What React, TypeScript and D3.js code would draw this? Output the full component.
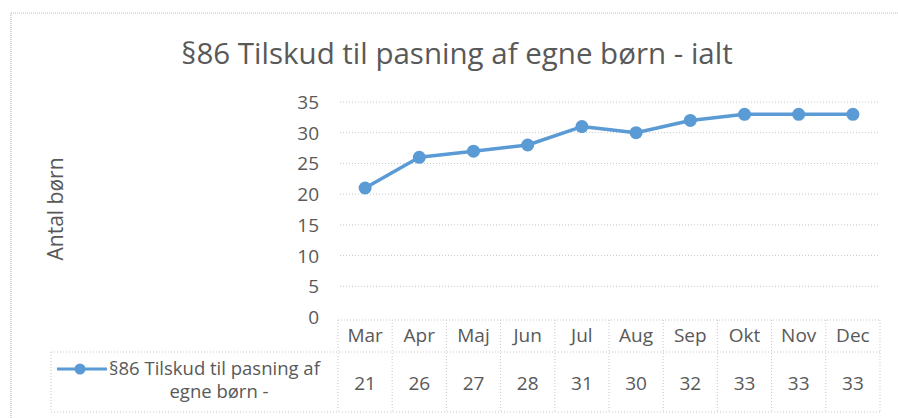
import React from "react";
import * as d3 from "d3";

const title = "§86 Tilskud til pasning af egne børn - ialt";
const yAxisTitle = "Antal børn";
const categories = ["Mar", "Apr", "Maj", "Jun", "Jul", "Aug", "Sep", "Okt", "Nov", "Dec"];
const values = [21, 26, 27, 28, 31, 30, 32, 33, 33, 33];
const yTicks = [0, 5, 10, 15, 20, 25, 30, 35];
const seriesLabelLines = ["§86 Tilskud til pasning af", "egne børn -"];

const W = 898;
const H = 418;
const FONT = "'Open Sans', sans-serif";
const TEXT = "#595959";
const GRID = "#c8c8c8";
const BLUE = "#5B9BD5";

export default function App() {
  const x = d3.scaleBand<string>().domain(categories).range([338, 880]);
  const y = d3.scaleLinear().domain([0, 35]).range([317, 102]);
  const cx = (c: string) => (x(c) as number) + x.bandwidth() / 2;
  const line = d3
    .line<number>()
    .x((_, i) => cx(categories[i]))
    .y((d) => y(d));

  const headTop = 320;
  const headBot = 352;
  const rowBot = 412;
  const legendLeft = 51;

  return (
    <svg width={W} height={H} style={{ position: "absolute", left: 0, top: 0, background: "#fff" }}>
      <rect x={0} y={0} width={W} height={H} fill="#fff" />
      {/* chart border */}
      <line x1={11} y1={13} x2={W} y2={13} stroke="#bbb" strokeWidth={1.2} strokeDasharray="1,1" />
      <line x1={11} y1={13} x2={11} y2={H} stroke="#bbb" strokeWidth={1.2} strokeDasharray="1,1" />

      <text x={457} y={64} textAnchor="middle" fontFamily={FONT} fontSize={29.5} fill={TEXT}>
        {title}
      </text>

      <text
        transform={`translate(63,${209}) rotate(-90)`}
        textAnchor="middle"
        fontFamily={FONT}
        fontSize={21}
        fill={TEXT}
      >
        {yAxisTitle}
      </text>

      {yTicks.map((t) => (
        <g key={t}>
          {t > 0 && (
            <line
              x1={340}
              x2={878}
              y1={y(t)}
              y2={y(t)}
              stroke={GRID}
              strokeWidth={1}
              strokeDasharray="1,2"
            />
          )}
          <text x={319} y={y(t) + 7} textAnchor="end" fontFamily={FONT} fontSize={19} fill={TEXT}>
            {t}
          </text>
        </g>
      ))}

      {/* table */}
      <g stroke={GRID} strokeWidth={1} strokeDasharray="1,2" fill="none">
        <line x1={338} x2={880} y1={headTop} y2={headTop} />
        <line x1={legendLeft} x2={880} y1={headBot} y2={headBot} />
        <line x1={legendLeft} x2={880} y1={rowBot} y2={rowBot} />
        <line x1={legendLeft} x2={legendLeft} y1={headBot} y2={rowBot} />
        {categories.map((c) => (
          <line key={c} x1={x(c)} x2={x(c)} y1={headTop} y2={rowBot} />
        ))}
        <line x1={880} x2={880} y1={headTop} y2={rowBot} />
      </g>
      {categories.map((c, i) => (
        <g key={c}>
          <text x={cx(c)} y={342} textAnchor="middle" fontFamily={FONT} fontSize={19} fill={TEXT}>
            {c}
          </text>
          <text x={cx(c)} y={390} textAnchor="middle" fontFamily={FONT} fontSize={19} fill={TEXT}>
            {values[i]}
          </text>
        </g>
      ))}

      {/* legend key */}
      <line x1={57} x2={107} y1={369} y2={369} stroke={BLUE} strokeWidth={3} />
      <circle cx={80} cy={369} r={5.5} fill={BLUE} />
      <text x={109} y={375} fontFamily={FONT} fontSize={18.5} fill={TEXT}>
        {seriesLabelLines[0]}
      </text>
      <text x={219} y={398} textAnchor="middle" fontFamily={FONT} fontSize={18.5} fill={TEXT}>
        {seriesLabelLines[1]}
      </text>

      {/* series */}
      <path d={line(values) ?? ""} fill="none" stroke={BLUE} strokeWidth={3.5} strokeLinejoin="round" />
      {values.map((v, i) => (
        <circle key={i} cx={cx(categories[i])} cy={y(v)} r={6.5} fill={BLUE} />
      ))}
    </svg>
  );
}
